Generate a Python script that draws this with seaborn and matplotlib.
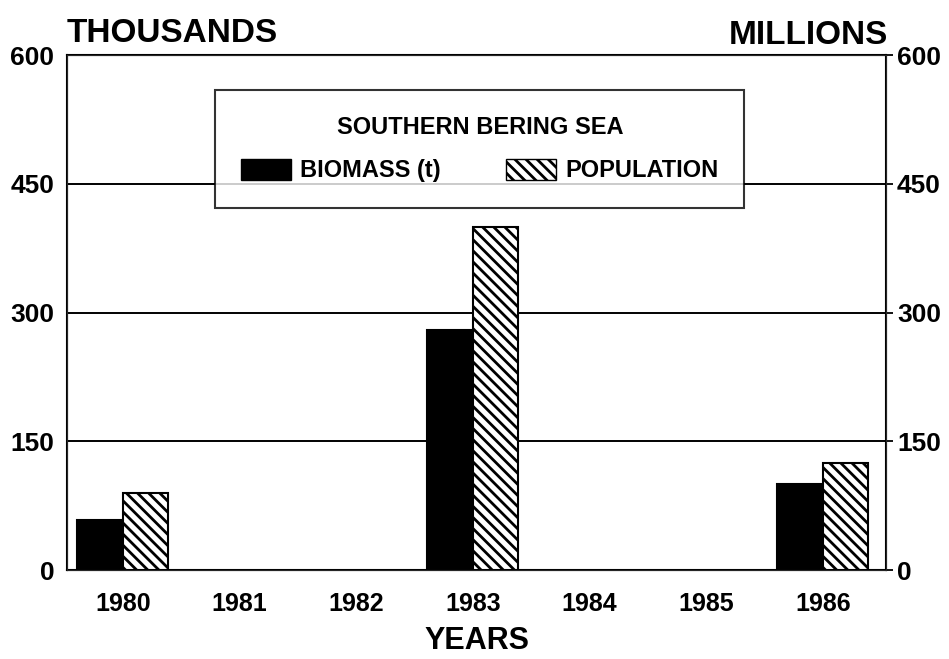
import pandas as pd
import matplotlib.pyplot as plt
import seaborn as sns
from matplotlib.patches import Patch

# Values
years = ["1980", "1981", "1982", "1983", "1984", "1985", "1986"]
survey_years = ["1980", "1983", "1986"]
biomass = [58, 280, 100]        # thousands of tonnes
population = [90, 400, 125]     # millions
y_ticks = [0, 150, 300, 450, 600]

df = pd.DataFrame({
    "Year": survey_years * 2,
    "Value": biomass + population,
    "Series": ["BIOMASS (t)"] * 3 + ["POPULATION"] * 3,
})

sns.set_style("white")
plt.rcParams["font.family"] = ["Liberation Sans", "DejaVu Sans"]
plt.rcParams["hatch.linewidth"] = 2.0
plt.rcParams["text.color"] = "black"
plt.rcParams["xtick.color"] = "black"
plt.rcParams["ytick.color"] = "black"
plt.rcParams["axes.labelcolor"] = "black"

fig = plt.figure(figsize=(9.49, 6.59), dpi=100)
ax = fig.add_axes([0.0706, 0.135, 0.863, 0.7815])

sns.barplot(data=df, x="Year", y="Value", hue="Series", order=years,
            palette=["black", "white"], edgecolor="black", linewidth=1.5,
            width=0.78, gap=0, legend=False, ax=ax, zorder=3)
for bar in ax.containers[1]:
    bar.set_hatch("\\\\\\")

ax.set_ylim(0, 600)
ax.set_xlim(-0.48, 6.54)
ax.set_yticks(y_ticks)
ax.set_yticklabels([str(t) for t in y_ticks], fontsize=19, fontweight="bold")
ax.tick_params(axis="y", length=0, pad=9)
ax.tick_params(axis="x", length=7, width=1.3, direction="out", labelsize=18, pad=9)
for lbl in ax.get_xticklabels():
    lbl.set_fontweight("bold")
for y in y_ticks[1:-1]:
    ax.axhline(y, color="black", lw=1.4, zorder=1)
for s in ax.spines.values():
    s.set_color("black")
    s.set_linewidth(1.5)

ax.set_xlabel("YEARS", fontsize=22, fontweight="bold", labelpad=7)
ax.set_ylabel("")

ax2 = ax.twinx()
ax2.set_ylim(0, 600)
ax2.set_yticks(y_ticks)
ax2.set_yticklabels([str(t) for t in y_ticks], fontsize=19, fontweight="bold")
ax2.tick_params(axis="y", length=5, width=1.3, pad=3)

fig.text(0.0706, 0.936, "THOUSANDS", fontsize=24, fontweight="bold", ha="left", va="baseline")
fig.text(0.936, 0.933, "MILLIONS", fontsize=24, fontweight="bold", ha="right", va="baseline")

handles = [Patch(facecolor="black", edgecolor="black", label="BIOMASS (t)"),
           Patch(facecolor="white", edgecolor="black", hatch="\\\\\\", label="POPULATION")]
leg = ax.legend(handles=handles, ncol=2, title="SOUTHERN BERING SEA",
                loc="center", bbox_to_anchor=(0.504, 0.8175),
                fontsize=17, title_fontsize=17, frameon=True, fancybox=False,
                handlelength=2.1, handleheight=1.0, handletextpad=0.4,
                columnspacing=2.75, borderpad=1.1, labelspacing=0.85,
                borderaxespad=0)
leg.get_title().set_fontweight("bold")
for t in leg.get_texts():
    t.set_fontweight("bold")
leg.get_frame().set_edgecolor("black")
leg.get_frame().set_linewidth(1.5)
leg.set_zorder(5)

plt.savefig("out.png", dpi=100)
